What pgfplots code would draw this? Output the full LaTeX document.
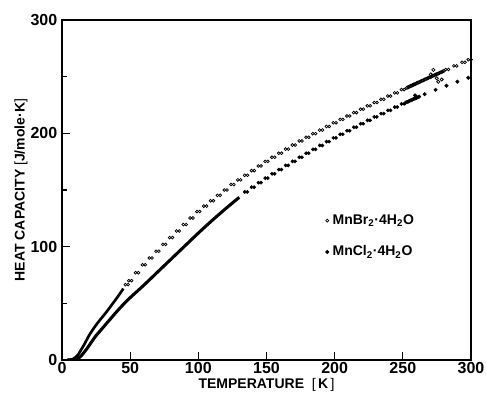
\documentclass[border=0pt]{standalone}
\usepackage{fontspec}
\setmainfont{Liberation Sans}
\usepackage{pgfplots}
\pgfplotsset{compat=1.18}
\pgfdeclareplotmark{oo}{%
  \pgfpathcircle{\pgfpoint{-\pgfplotmarksize}{0pt}}{\pgfplotmarksize}%
  \pgfpathcircle{\pgfpoint{\pgfplotmarksize}{0pt}}{\pgfplotmarksize}%
  \pgfusepathqstroke}
\pgfdeclareplotmark{dd}{%
  \pgfpathcircle{\pgfpoint{-0.8\pgfplotmarksize}{0pt}}{\pgfplotmarksize}%
  \pgfpathcircle{\pgfpoint{0.8\pgfplotmarksize}{0pt}}{\pgfplotmarksize}%
  \pgfusepathqfillstroke}
\begin{document}
\begin{tikzpicture}
\begin{axis}[
  width=306.75pt, height=255pt, scale only axis,
  xmin=0, xmax=300, ymin=0, ymax=300,
  xtick={0,50,...,300}, ytick={0,100,200,300}, minor ytick={50,150,250},
  tick align=inside, xtick pos=bottom, ytick pos=left,
  major tick length=6pt, minor tick length=4pt,
  axis line style={line width=1.1pt},
  every tick/.style={black, line width=0.8pt},
  tick label style={font=\fontsize{12}{13}\selectfont\bfseries},
  xticklabel style={yshift=1.5pt},
  /pgf/number format/assume math mode=true,
  label style={font=\fontsize{10.5}{12}\selectfont\bfseries},
  xlabel={TEMPERATURE \ \textmd{[}\,K\,\textmd{]}},
  ylabel={HEAT CAPACITY \textmd{[}J/mole·K\textmd{]}},
  xlabel style={at={(axis description cs:0.5,-0.072)}, anchor=center},
  ylabel style={at={(axis description cs:-0.1,0.5)}, anchor=center},
  legend style={draw=none, fill=none, at={(0.643,0.432)}, anchor=north west,
    inner sep=0pt, row sep=12.5pt, column sep=1.5pt,
    font=\fontsize{10.5}{12}\selectfont\bfseries,
    nodes={inner sep=1pt}},
  legend cell align=left,
]
% legend entries
\addlegendimage{legend image code/.code={\draw[line width=0.5pt] (0pt,0pt) circle (1.1pt);}}
\addlegendentry{MnBr\textsubscript{2}·4H\textsubscript{2}O}
\addlegendimage{legend image code/.code={\fill (0pt,0pt) circle (1.3pt);}}
\addlegendentry{MnCl\textsubscript{2}·4H\textsubscript{2}O}

% MnCl2 dense low-T part
\addplot[forget plot, black, line width=2.3pt, smooth] coordinates {
(4,0) (6,0.1) (8,0.4) (10,0.9) (12,1.5) (14,3.5) (16,6.5) (18,9.5) (20,13)
(22,16.5) (25,21.5) (30,28.5) (35,35.5) (40,42.5) (45,49) (50,55) (60,66)
(70,77.5) (80,89) (90,100.5) (100,112) (110,123) (120,133.5) (130,143.5)};
% MnBr2 dense low-T part
\addplot[forget plot, black, line width=2.0pt, smooth] coordinates {
(4,0) (6,0.2) (8,0.8) (10,2.5) (12,5) (14,9) (16,13) (18,17.5) (20,22)
(23,27.5) (26,32.5) (29,37) (33,43) (37,49.5) (41,56) (45,63)};

% MnBr2 open circles
\addplot[forget plot, only marks, mark=oo, mark size=1.05pt, mark options={line width=0.55pt, black}] coordinates {
(47.5,66.5) (50,70) (55,77) (60,84) (65,90) (70,96) (75,102) (80,108) (85,113.8)
(90,119.5) (95,125.3) (100,131) (105,135.8) (110,140.5) (115,145.3) (120,150)
(125,154.8) (130,158.9) (135,163) (140,167.1) (145,171.2) (150,175.3) (155,178.9)
(160,182.5) (165,186.1) (170,189.7) (175,193.3) (180,196.5) (185,199.7) (190,202.9)
(195,206.1) (200,209.3) (205,212.3) (210,215.3) (215,218.3) (220,221.3) (225,224.3)
(230,227.2) (235,230) (240,232.9) (245,235.7) (250,238.6)
(282.5,256.3) (288.5,259.5) (294.5,262.7) (299,265)};
% MnBr2 cluster near 255-280 K
\addplot[forget plot, only marks, mark=o, mark size=1.2pt, mark options={line width=0.6pt, black}] coordinates {
(253,240.2) (254,240.8) (255,241.3) (256,241.9) (257,242.4) (258,243) (259,243.5)
(260,244.1) (261,244.6) (262,245.2) (263,245.7) (264,246.3) (265,246.8) (266,247.4)
(267,247.9) (268,248.5) (269,249) (270,249.6) (271,250.1) (272,250.7) (273,251.2)
(274,251.8) (275,252.3) (276,252.8) (277,253.4) (278,253.9) (279,254.5) (280,255)
(272.4,256) (276,245.5) (274.9,248.6) (278.5,247.5) (270.5,252)};

% MnCl2 filled dots
\addplot[forget plot, only marks, mark=dd, mark size=1.2pt, mark options={black}] coordinates {
(135,148.3) (140,152.5) (145,156.5) (150,160.5) (155,164.3) (160,168) (165,171.7)
(170,175.3) (175,178.9) (180,182.5) (185,185.9) (190,189.3) (195,192.7) (200,196)
(205,199.2) (210,202.3) (215,205.4) (220,208.5) (225,211.5) (230,214.5) (235,217.4)
(240,220.3) (245,223.2) (250,226)};
\addplot[forget plot, only marks, mark=*, mark size=1.3pt, mark options={black}] coordinates {
(252,227) (253,227.6) (254,228.1) (255,228.7) (256,229.2) (257,229.7) (258,230.2)
(259,230.8) (260,231.3) (261,231.8) (262,232.4) (259,233.5)
(266,234.5) (274,238.4) (282,242) (290,245.6) (298,249)};
\end{axis}
\pgfresetboundingbox
\path[use as bounding box] (-46.5pt,-25.5pt) rectangle (318pt,270pt);
\end{tikzpicture}
\end{document}
